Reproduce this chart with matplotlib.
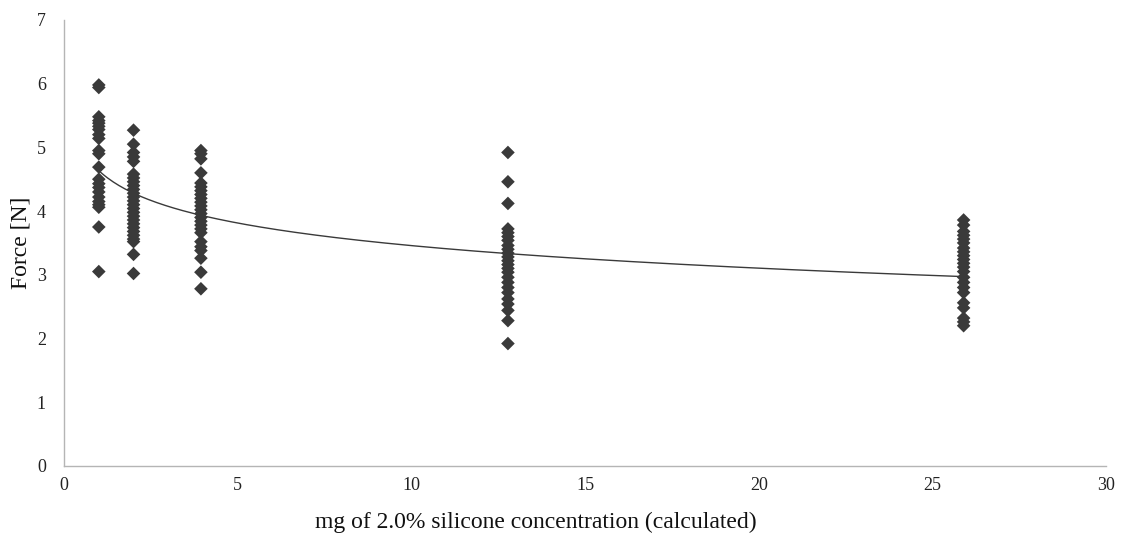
import numpy as np
import matplotlib
matplotlib.use("Agg")
import matplotlib.pyplot as plt

# ---- data ----
x_groups = [1.0, 2.0, 3.94, 12.78, 25.9]
force_g1 = [5.98, 5.94, 5.48, 5.42, 5.38, 5.33, 5.28, 5.2, 5.14, 4.95, 4.9, 4.69,
            4.5, 4.43, 4.37, 4.3, 4.22, 4.15, 4.1, 4.06, 3.75, 3.05]
force_g2 = [5.27, 5.05, 4.92, 4.85, 4.78, 4.58, 4.52, 4.46, 4.4, 4.34, 4.28, 4.22,
            4.16, 4.1, 4.04, 3.98, 3.92, 3.86, 3.8, 3.74, 3.68, 3.62, 3.56, 3.52,
            3.32, 3.02]
force_g3 = [4.95, 4.9, 4.82, 4.6, 4.44, 4.38, 4.32, 4.26, 4.2, 4.14, 4.08, 4.02,
            3.96, 3.9, 3.84, 3.78, 3.72, 3.66, 3.52, 3.44, 3.38, 3.26, 3.04, 2.78]
force_g4 = [4.92, 4.46, 4.12, 3.72, 3.66, 3.6, 3.54, 3.46, 3.4, 3.34, 3.28, 3.22,
            3.16, 3.1, 3.04, 2.96, 2.88, 2.8, 2.72, 2.62, 2.54, 2.44, 2.28, 1.92]
force_g5 = [3.86, 3.78, 3.68, 3.62, 3.56, 3.5, 3.42, 3.36, 3.3, 3.24, 3.18, 3.12,
            3.05, 2.96, 2.88, 2.8, 2.72, 2.56, 2.48, 2.32, 2.26, 2.2]
x_ticks = [0, 5, 10, 15, 20, 25, 30]
y_ticks = [0, 1, 2, 3, 4, 5, 6, 7]

groups = [force_g1, force_g2, force_g3, force_g4, force_g5]
xs = np.concatenate([[xv] * len(g) for xv, g in zip(x_groups, groups)])
ys = np.concatenate(groups)

# logarithmic trendline (least squares on ln x)
b, a = np.polyfit(np.log(xs), ys, 1)
xt = np.linspace(min(x_groups), max(x_groups), 300)
yt = a + b * np.log(xt)

plt.rcParams['font.family'] = ['Liberation Serif', 'DejaVu Serif']

fig = plt.figure(figsize=(11.24, 5.33), dpi=100)
ax = fig.add_axes([0.057, 0.126, 0.927, 0.8365])

ax.scatter(xs, ys, marker='D', s=48, color='#3a3a3a', edgecolors='none', zorder=3)
ax.plot(xt, yt, color='#3a3a3a', linewidth=1.0, zorder=2)

ax.set_xlim(0, 30)
ax.set_ylim(0, 7)
ax.set_xticks(x_ticks)
ax.set_yticks(y_ticks)
for s in ['top', 'right']:
    ax.spines[s].set_visible(False)
for s in ['left', 'bottom']:
    ax.spines[s].set_color('#b5b5b5')
    ax.spines[s].set_linewidth(1.0)
ax.tick_params(axis='both', length=0, labelsize=13, colors='#222222')
ax.tick_params(axis='y', pad=13)
ax.tick_params(axis='x', pad=8)

ax.set_xlabel('mg of 2.0% silicone concentration (calculated)', fontsize=17,
              color='#111111')
ax.set_ylabel('Force [N]', fontsize=17, color='#111111')
ax.xaxis.set_label_coords(0.453, -0.102)
ax.yaxis.set_label_coords(-0.031, 0.5)

fig.savefig('out.png', dpi=100)
